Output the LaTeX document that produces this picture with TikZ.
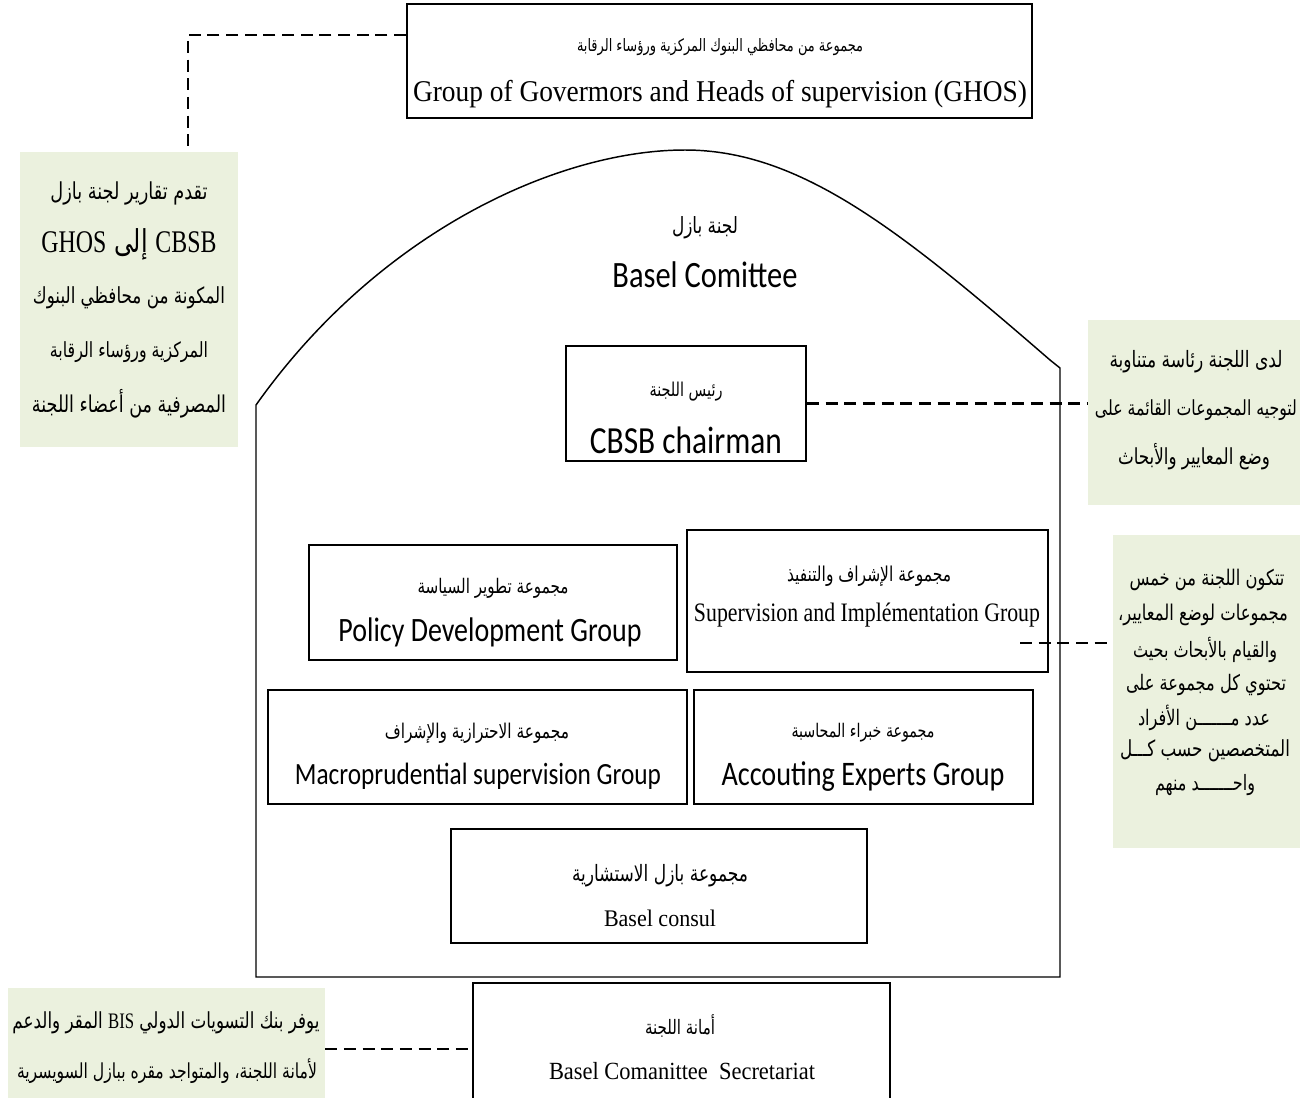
\documentclass[tikz,border=0pt]{standalone}
\usepackage{fontspec}
\usepackage{graphicx}
\usetikzlibrary{fit}
\TeXXeTstate=1
\newfontfamily\arfont[Script=Arabic]{DejaVu Sans}
\newfontfamily\lserif{Liberation Serif}
\newfontfamily\csans{Carlito}
\definecolor{notegreen}{HTML}{EBF1DE}
\newlength\pxu \setlength\pxu{0.75pt}
\newcommand\arw[2]{\scalebox{1}[1.32]{\resizebox{#1\pxu}{!}{\arfont #2}}}
\newcommand\fw[4]{\scalebox{1}[#4]{\resizebox{#1\pxu}{!}{#2#3}}}
\tikzset{
  box/.style={draw=black, line width=1.4pt, inner sep=0pt},
  note/.style={fill=notegreen, draw=none, inner sep=0pt},
  house/.style={draw=black, line width=1.1pt},
  dashline/.style={line width=1.9pt, dash pattern=on 9pt off 5pt},
  txt/.style={inner sep=0pt, outer sep=0pt}
}
\begin{document}
\begin{tikzpicture}[x=0.75pt,y=-0.75pt]
\clip (0,0) rectangle (1304,1097);
\fill[white] (0,0) rectangle (1304,1097);

% ---------- house outline (Basel Committee)
\draw[house] (256,977) -- (256,405)
  .. controls (380,230) and (560,150) .. (685,150)
  .. controls (800,150) and (900,230) .. (1050,360)
  -- (1060,368) -- (1060,977) -- cycle;

% ---------- green notes
\node[note, fit={(20,152) (238,447)}] (noteL) {};
\node[note, fit={(1088,320) (1300,505)}] (noteR1) {};
\node[note, fit={(1113,535) (1300,848)}] (noteR2) {};
\node[note, fit={(8,988) (325,1100)}] (noteB) {};

% ---------- boxes
\node[box, fit={(407,4) (1032,118)}] (ghos) {};
\node[box, fill=white, fit={(566,346) (806,461)}] (chair) {};
\node[box, fill=white, fit={(309,545) (677,660)}] (policy) {};
\node[box, fill=white, fit={(687,530) (1048,672)}] (superv) {};
\node[box, fill=white, fit={(268,690) (687,804)}] (macro) {};
\node[box, fill=white, fit={(694,690) (1033,804)}] (account) {};
\node[box, fill=white, fit={(451,829) (867,943)}] (consul) {};
\node[box, fill=white, fit={(473,983) (890,1110)}] (secr) {};

% ---------- connectors
\coordinate (bendA) at (188,35);
\draw[dashline] (ghos.west |- bendA) -- (bendA) -- (noteL.north -| bendA);
\draw[dashline] (chair.east) -- (noteR1.west |- chair.east);
\coordinate (supS) at (1020,643);
\draw[dashline] (supS) -- (noteR2.west |- supS);
\coordinate (secS) at (330,1049);
\draw[dashline] (noteB.east |- secS) -- (secr.west |- secS);

% ---------- texts in boxes
\node[txt] (tGa) at (720,47) {\arw{286}{\beginR مجموعة من محافظي البنوك المركزية ورؤساء الرقابة\endR}};
\node[txt] (tGe) at (720,94) {\fw{614}{\lserif}{Group of Govermors and Heads of supervision (GHOS)}{1.1}};

\node[txt] (tHa) at (705,228) {\arw{66}{\beginR لجنة بازل\endR}};
\node[txt] (tHe) at (705,275) {\fw{185}{\csans}{Basel Comittee}{1.22}};

\node[txt] (tCa) at (686,392) {\arw{73}{\beginR رئيس اللجنة\endR}};
\node[txt] (tCe) at (686,440) {\fw{192}{\csans}{CBSB chairman}{1.22}};

\node[txt] (tPa) at (493,588) {\arw{151}{\beginR مجموعة تطوير السياسة\endR}};
\node[txt] (tPe) at (490,632) {\fw{303}{\csans}{Policy Development Group}{1.22}};

\node[txt] (tSa) at (869,576) {\arw{164}{\beginR مجموعة الإشراف والتنفيذ\endR}};
\node[txt] (tSe) at (867,615) {\fw{346}{\lserif}{Supervision and Implémentation Group}{1.22}};

\node[txt] (tMa) at (477,733) {\arw{184}{\beginR مجموعة الاحترازية والإشراف\endR}};
\node[txt] (tMe) at (478,776) {\fw{366}{\csans}{Macroprudential supervision Group}{1.22}};

\node[txt] (tAa) at (863,733) {\arw{143}{\beginR مجموعة خبراء المحاسبة\endR}};
\node[txt] (tAe) at (863,777) {\fw{283}{\csans}{Accouting Experts Group}{1.22}};

\node[txt] (tBa) at (660,876) {\arw{176}{\beginR مجموعة بازل الاستشارية\endR}};
\node[txt] (tBe) at (660,918) {\fw{112}{\lserif}{Basel consul}{1.08}};

\node[txt] (tSca) at (680,1026) {\arw{70}{\beginR أمانة اللجنة\endR}};
\node[txt] (tSce) at (682,1071) {\fw{266}{\lserif}{Basel Comanittee~~Secretariat}{1.1}};

% ---------- texts in green notes
\node[txt] (l1) at (129,193) {\arw{157}{\beginR تقدم تقارير لجنة بازل\endR}};
\node[txt] (l2) at (129,244) {\arw{175}{\beginR\beginL{\lserif CBSB}\endL{} إلى \beginL{\lserif GHOS}\endL\endR}};
\node[txt] (l3) at (129,298) {\arw{192}{\beginR المكونة من محافظي البنوك\endR}};
\node[txt] (l4) at (129,352) {\arw{158}{\beginR المركزية ورؤساء الرقابة\endR}};
\node[txt] (l5) at (129,404) {\arw{194}{\beginR المصرفية من أعضاء اللجنة\endR}};

\node[txt] (r1) at (1196,362) {\arw{173}{\beginR لدى اللجنة رئاسة متناوبة\endR}};
\node[txt] (r2) at (1196,410) {\arw{202}{\beginR لتوجيه المجموعات القائمة على\endR}};
\node[txt] (r3) at (1194,457) {\arw{152}{\beginR وضع المعايير والأبحاث\endR}};

\node[txt] (s1) at (1207,580) {\arw{155}{\beginR تتكون اللجنة من خمس\endR}};
\node[txt] (s2) at (1203,615) {\arw{170}{\beginR مجموعات لوضع المعايير،\endR}};
\node[txt] (s3) at (1205,650) {\arw{144}{\beginR والقيام بالأبحاث بحيث\endR}};
\node[txt] (s4) at (1206,685) {\arw{160}{\beginR تحتوي كل مجموعة على\endR}};
\node[txt] (s5) at (1204,718) {\arw{132}{\beginR عدد مـــــــن الأفراد\endR}};
\node[txt] (s6) at (1205,751) {\arw{170}{\beginR المتخصصين حسب كـــل\endR}};
\node[txt] (s7) at (1205,785) {\arw{100}{\beginR واحـــــــد منهم\endR}};

\node[txt] (b1) at (166,1023) {\arw{307}{\beginR يوفر بنك التسويات الدولي \beginL{\lserif BIS}\endL{} المقر والدعم\endR}};
\node[txt] (b2) at (167,1071) {\arw{300}{\beginR لأمانة اللجنة، والمتواجد مقره ببازل السويسرية\endR}};
\end{tikzpicture}
\end{document}
